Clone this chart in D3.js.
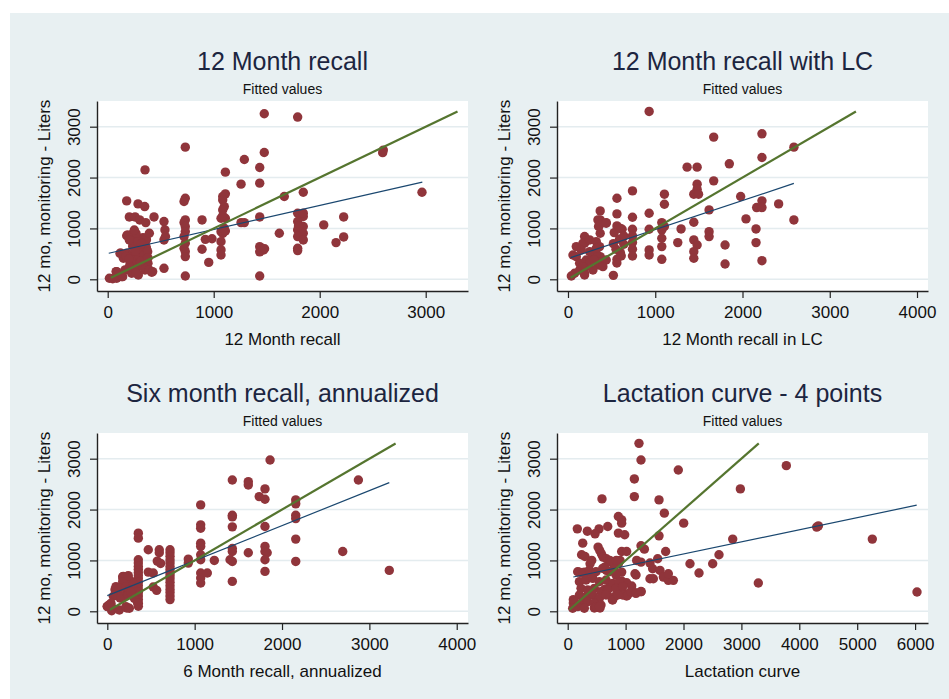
<!DOCTYPE html>
<html>
<head>
<meta charset="utf-8">
<script src="https://cdn.jsdelivr.net/npm/d3@7"></script>
<style>
  body { margin: 0; background: #fff; }
  svg { display: block; font-family: "Liberation Sans", Arial, sans-serif; }
</style>
</head>
<body>
<svg id="chart" width="949" height="699"></svg>
<script>
// ---- data ----
const titles = ['12 Month recall', '12 Month recall with LC', 'Six month recall, annualized', 'Lactation curve - 4 points'];
const subtitle = 'Fitted values';
const xTitles = ['12 Month recall', '12 Month recall in LC', '6 Month recall, annualized', 'Lactation curve'];
const yTitle = '12 mo, monitoring - Liters';
const yTicks = [0, 1000, 2000, 3000];
const xTickSets = [
    [0, 1000, 2000, 3000],
    [0, 1000, 2000, 3000, 4000],
    [0, 1000, 2000, 3000, 4000],
    [0, 1000, 2000, 3000, 4000, 5000, 6000]
];
const xDomains = [[-101, 3399], [-126, 4126], [-118, 4129], [-185, 6223]];
const yDomain = [-230, 3505];

// fitted regression line (navy), start and end
const fitLines = [
    [[10, 512], [2968, 1909]],
    [[30, 425], [2589, 1885]],
    [[0, 308], [3228, 2529]],
    [[97, 674], [6028, 2086]]
];
// line of equality (green)
const equalityLine = [[30, 30], [3300, 3300]];

const recall12Pts = [
    [1477,3254],[1792,3189],[732,2598],[352,2151],[1477,2492],[1289,2355],[1434,2198],[1110,2106],[1434,1890],[1258,1870],
    [2594,2490],[2600,2540],[2965,1712],[1845,1712],[1666,1627],[2226,1226],[2038,1069],[2226,833],[2154,721],[1619,905],
    [1434,1226],[1434,642],[1470,577],[1434,540],[1480,600],[1434,65],[732,65],
    [1792,1299],[1845,1234],[1792,1135],[1845,1037],[1792,971],[1845,905],[1792,840],[1845,774],[1792,610],[1792,564],[1845,1300],[1800,1050],
    [1085,1627],[1110,1680],[1085,1561],[1100,1429],[1085,1364],[1069,1201],[1110,1201],[1100,1004],[1069,937],[1085,900],
    [1069,740],[1069,577],[1069,478],[1110,950],[1085,1250],[1258,1115],[1289,1115],
    [890,1167],[890,590],[953,332],[921,785],[984,797],
    [732,1594],[720,1529],[732,1168],[720,1115],[732,1037],[732,938],[720,840],[732,709],[720,610],[732,545],[732,446],
    [531,1135],[540,971],[531,774],[545,840],[531,216],[437,1226],
    [179,1541],[286,1482],[349,1430],[204,1226],[258,1226],[302,1167],[359,1115],[179,856],[239,905],[270,807],
    [302,774],[333,820],[365,774],[239,676],[286,643],[333,676],[365,610],[116,511],[179,511],[239,498],
    [302,524],[365,544],[148,413],[210,348],[270,315],[333,381],[380,315],[85,151],[164,184],[226,118],
    [289,85],[352,184],[415,138],[16,20],[47,10],[85,20],[132,52],
    [188,872],[267,905],[361,807],[330,709],[236,643],[299,577],[361,643],[125,512],[173,446],[236,381],
    [299,446],[345,478],[204,249],[267,183],[330,249],[393,183],[424,151],[79,151],[141,52],[267,118],
    [377,544],[283,741],[204,774],[393,905],[251,970],[318,700],[260,560],[200,400],[310,350],[380,420]
];

const recallLCPts = [
    [930,3300],[1670,2795],[2223,2860],[2223,2394],[2589,2598],[1365,2205],[1480,2205],[1849,2270],[1670,1935],[1480,1870],
    [1480,1770],[1442,1673],[1496,1673],[1979,1627],[2223,1542],[2162,1410],[2223,1410],[2414,1482],[2589,1167],[2040,1187],
    [2155,990],[2155,721],[2223,366],[1800,675],[1800,301],[1617,1364],[1617,937],[1617,839],[1442,1122],[1442,774],
    [1480,675],[1442,544],[1442,413],[1296,990],[1258,721],[1105,1673],[1105,1476],[1075,1115],[1105,1037],[1075,971],
    [1075,807],[1075,643],[1075,393],[930,1299],[930,984],[930,577],[930,479],
    [739,1220],[739,984],[739,853],[739,722],[739,590],[739,459],[739,1738],[561,1594],[561,1286],
    [561,1050],[620,984],[530,918],[590,787],[640,689],[550,590],[600,525],[561,393],[520,78],[600,1000],
    [640,850],[520,700],[610,460],[560,320],
    [438,1115],[369,1345],[369,1167],[350,1037],[369,905],[341,643],[369,446],[350,282],[190,840],[190,709],
    [38,65],[190,85],[57,478],[171,709],[248,774],[324,741],[362,643],[343,1167],[362,1069],[438,1102],
    [95,445],[133,315],[209,380],[286,445],[324,511],[362,315],[209,249],[133,183],[286,183],[76,118],
    [190,118],[248,544],[152,577],[438,380],[400,249],[324,610],[95,643],[248,315],[170,250],[300,380]
];

const recall6Pts = [
    [1863,2975],[1431,2582],[1614,2549],[1614,2484],[1805,2406],[1739,2255],[1805,2203],[2874,2582],[2157,2190],[2157,2112],
    [2157,1889],[2157,1823],[2157,1419],[2157,980],[2695,1176],[3228,804],[1805,1667],[1805,1275],[1805,1176],[1830,1150],
    [1805,1013],[1805,784],[1614,1150],[1431,1889],[1431,1856],[1431,1660],[1431,1235],[1431,1176],[1405,1013],[1431,980],
    [1431,588],[1069,2092],[1069,1699],[1069,1634],[1069,1340],[1069,1275],[1069,1111],[1069,1013],[1069,752],[1069,654],
    [1069,556],[1145,752],[1225,1000],[927,1026],[927,948],
    [718,1210],[718,1150],[718,1080],[718,1010],[718,950],[718,880],[718,820],[718,760],[718,700],[718,640],
    [718,570],[718,500],[718,430],[718,370],[718,300],[718,230],
    [595,1210],[595,1150],[469,1210],[572,987],[610,941],[469,771],[526,752],[526,477],[565,412],
    [355,1536],[355,1438],[355,1013],[355,950],[355,880],[355,820],[355,760],[355,700],[355,640],[355,570],
    [355,500],[355,430],[355,370],[355,300],[355,230],[355,160],[355,99],
    [183,687],[222,425],[260,608],[180,641],[88,425],[126,360],[69,295],[145,262],[202,295],[222,66],
    [0,99],[50,10],[38,131],
    [176,680],[176,582],[99,484],[138,451],[214,484],[252,418],[290,451],[99,320],[157,288],[233,320],
    [309,255],[348,157],[42,157],[0,92],[61,59],[138,26],[214,92],[252,59],[20,124],[270,380],[300,550],[240,700]
];

const lactationPts = [
    [1231,3302],[1266,2975],[1910,2778],[3776,2863],[1151,2602],[2982,2406],[1151,2255],[592,2210],[1577,2190],[1669,1929],
    [4300,1655],[4330,1680],[5261,1419],[6033,380],[3292,556],[2850,1419],[2613,1111],[2504,935],[2268,752],[2112,935],
    [2003,1733],[1577,1484],[1692,1176],[1554,1033],[1266,1288],[1324,1222],[1191,1000],[1266,967],[1421,948],[1467,837],
    [1421,640],[1479,640],[1594,804],[1652,673],[1738,608],[1824,608],[1738,738],[1162,738],[1105,497],[1162,366],
    [1018,301],[1266,388],[932,1798],[875,1863],[932,1733],[875,1537],[984,1504],[932,1176],[1018,1176],[904,1000],
    [875,935],[691,1667],[541,1621],[472,1523],[166,1621],[339,1575],[259,1340],[240,1111],[298,1078],[415,1000],
    [386,935],[524,1262],[553,1196],[582,1130],[611,1065],[668,1033],[726,1000],[640,869],[668,804],[755,967],
    [841,1000],[795,837],[932,771],[202,771],[288,771],[374,771],[97,164],[97,229],[460,66],[558,66],
    [771,229],[731,497],[846,432],[932,595],[960,366],[1018,562],[640,432],[668,333],
    [172,778],[259,745],[374,811],[489,778],[604,843],[719,778],[834,713],[202,582],[317,615],[432,647],
    [547,582],[662,615],[777,549],[892,582],[230,451],[345,418],[460,451],[575,386],[690,418],[834,451],
    [949,484],[202,320],[317,288],[432,320],[547,255],[662,320],[806,288],[949,320],[115,190],[230,157],
    [345,190],[460,157],[575,124],[86,59],[172,92],[287,59],[489,92],[547,92],[776,222],[862,320],
    [1036,320],[1094,386],[1180,353],[1267,386],[1180,713]
];

const pointSets = [recall12Pts, recallLCPts, recall6Pts, lactationPts];

// ---- layout ----
const panelBoxes = [
    { left: 97,  right: 468, top: 101, bottom: 291 },
    { left: 557, right: 928, top: 101, bottom: 291 },
    { left: 97,  right: 468, top: 433, bottom: 623 },
    { left: 557, right: 928, top: 433, bottom: 623 }
];

const COLORS = {
    graphBg: '#e8f0f2',
    grid: '#e4ecef',
    marker: '#90353b',
    fit: '#1a476f',
    equal: '#55752f',
    title: '#1c2540',
    text: '#111'
};

const svg = d3.select('#chart');

// outer graph region
svg.append('rect')
    .attr('x', 10).attr('y', 13)
    .attr('width', 939).attr('height', 686)
    .attr('fill', COLORS.graphBg);

panelBoxes.forEach((box, i) => drawPanel(box, i));

function drawPanel(box, i) {
    const g = svg.append('g');
    const x = d3.scaleLinear().domain(xDomains[i]).range([box.left, box.right]);
    const y = d3.scaleLinear().domain(yDomain).range([box.bottom, box.top]);
    const cx = (box.left + box.right) / 2;
    const cy = (box.top + box.bottom) / 2;

    // plot region
    g.append('rect')
        .attr('x', box.left).attr('y', box.top)
        .attr('width', box.right - box.left).attr('height', box.bottom - box.top)
        .attr('fill', '#fff');

    // horizontal grid
    g.selectAll('.grid')
        .data(yTicks).enter()
        .append('line')
        .attr('x1', box.left).attr('x2', box.right)
        .attr('y1', d => y(d)).attr('y2', d => y(d))
        .attr('stroke', COLORS.grid)
        .attr('stroke-width', 1.5);

    // markers
    g.selectAll('.pt')
        .data(pointSets[i]).enter()
        .append('circle')
        .attr('cx', d => x(d[0]))
        .attr('cy', d => y(d[1]))
        .attr('r', 4.7)
        .attr('fill', COLORS.marker);

    const line = d3.line().x(d => x(d[0])).y(d => y(d[1]));

    // fitted values
    g.append('path')
        .attr('d', line(fitLines[i]))
        .attr('fill', 'none')
        .attr('stroke', COLORS.fit)
        .attr('stroke-width', 1.2);

    // equality line
    g.append('path')
        .attr('d', line(equalityLine))
        .attr('fill', 'none')
        .attr('stroke', COLORS.equal)
        .attr('stroke-width', 2.2);

    // y axis
    const yAxis = g.append('g')
        .attr('transform', `translate(${box.left},0)`)
        .call(d3.axisLeft(y).tickValues(yTicks).tickSize(7).tickSizeOuter(0).tickFormat(d3.format('d')));
    yAxis.selectAll('text')
        .attr('x', null).attr('dy', null)
        .attr('transform', 'translate(-17,0) rotate(-90)')
        .attr('text-anchor', 'middle')
        .attr('font-size', 17)
        .attr('fill', COLORS.text);

    // x axis
    const xAxis = g.append('g')
        .attr('transform', `translate(0,${box.bottom})`)
        .call(d3.axisBottom(x).tickValues(xTickSets[i]).tickSize(7).tickSizeOuter(0).tickFormat(d3.format('d')));
    xAxis.selectAll('text')
        .attr('y', 27).attr('dy', null)
        .attr('font-size', 17)
        .attr('fill', COLORS.text);

    [yAxis, xAxis].forEach(ax => {
        ax.select('.domain').attr('stroke', '#222').attr('stroke-width', 1.4);
        ax.selectAll('.tick line').attr('stroke', '#222').attr('stroke-width', 1.2);
    });

    // titles
    g.append('text')
        .attr('x', cx).attr('y', box.top - 31)
        .attr('text-anchor', 'middle')
        .attr('font-size', 25)
        .attr('fill', COLORS.title)
        .text(titles[i]);

    g.append('text')
        .attr('x', cx).attr('y', box.top - 7)
        .attr('text-anchor', 'middle')
        .attr('font-size', 14)
        .attr('fill', COLORS.text)
        .text(subtitle);

    g.append('text')
        .attr('x', cx).attr('y', box.bottom + 54)
        .attr('text-anchor', 'middle')
        .attr('font-size', 17)
        .attr('fill', COLORS.text)
        .text(xTitles[i]);

    g.append('text')
        .attr('transform', `translate(${box.left - 47},${cy}) rotate(-90)`)
        .attr('text-anchor', 'middle')
        .attr('font-size', 17)
        .attr('fill', COLORS.text)
        .text(yTitle);
}
</script>
</body>
</html>
